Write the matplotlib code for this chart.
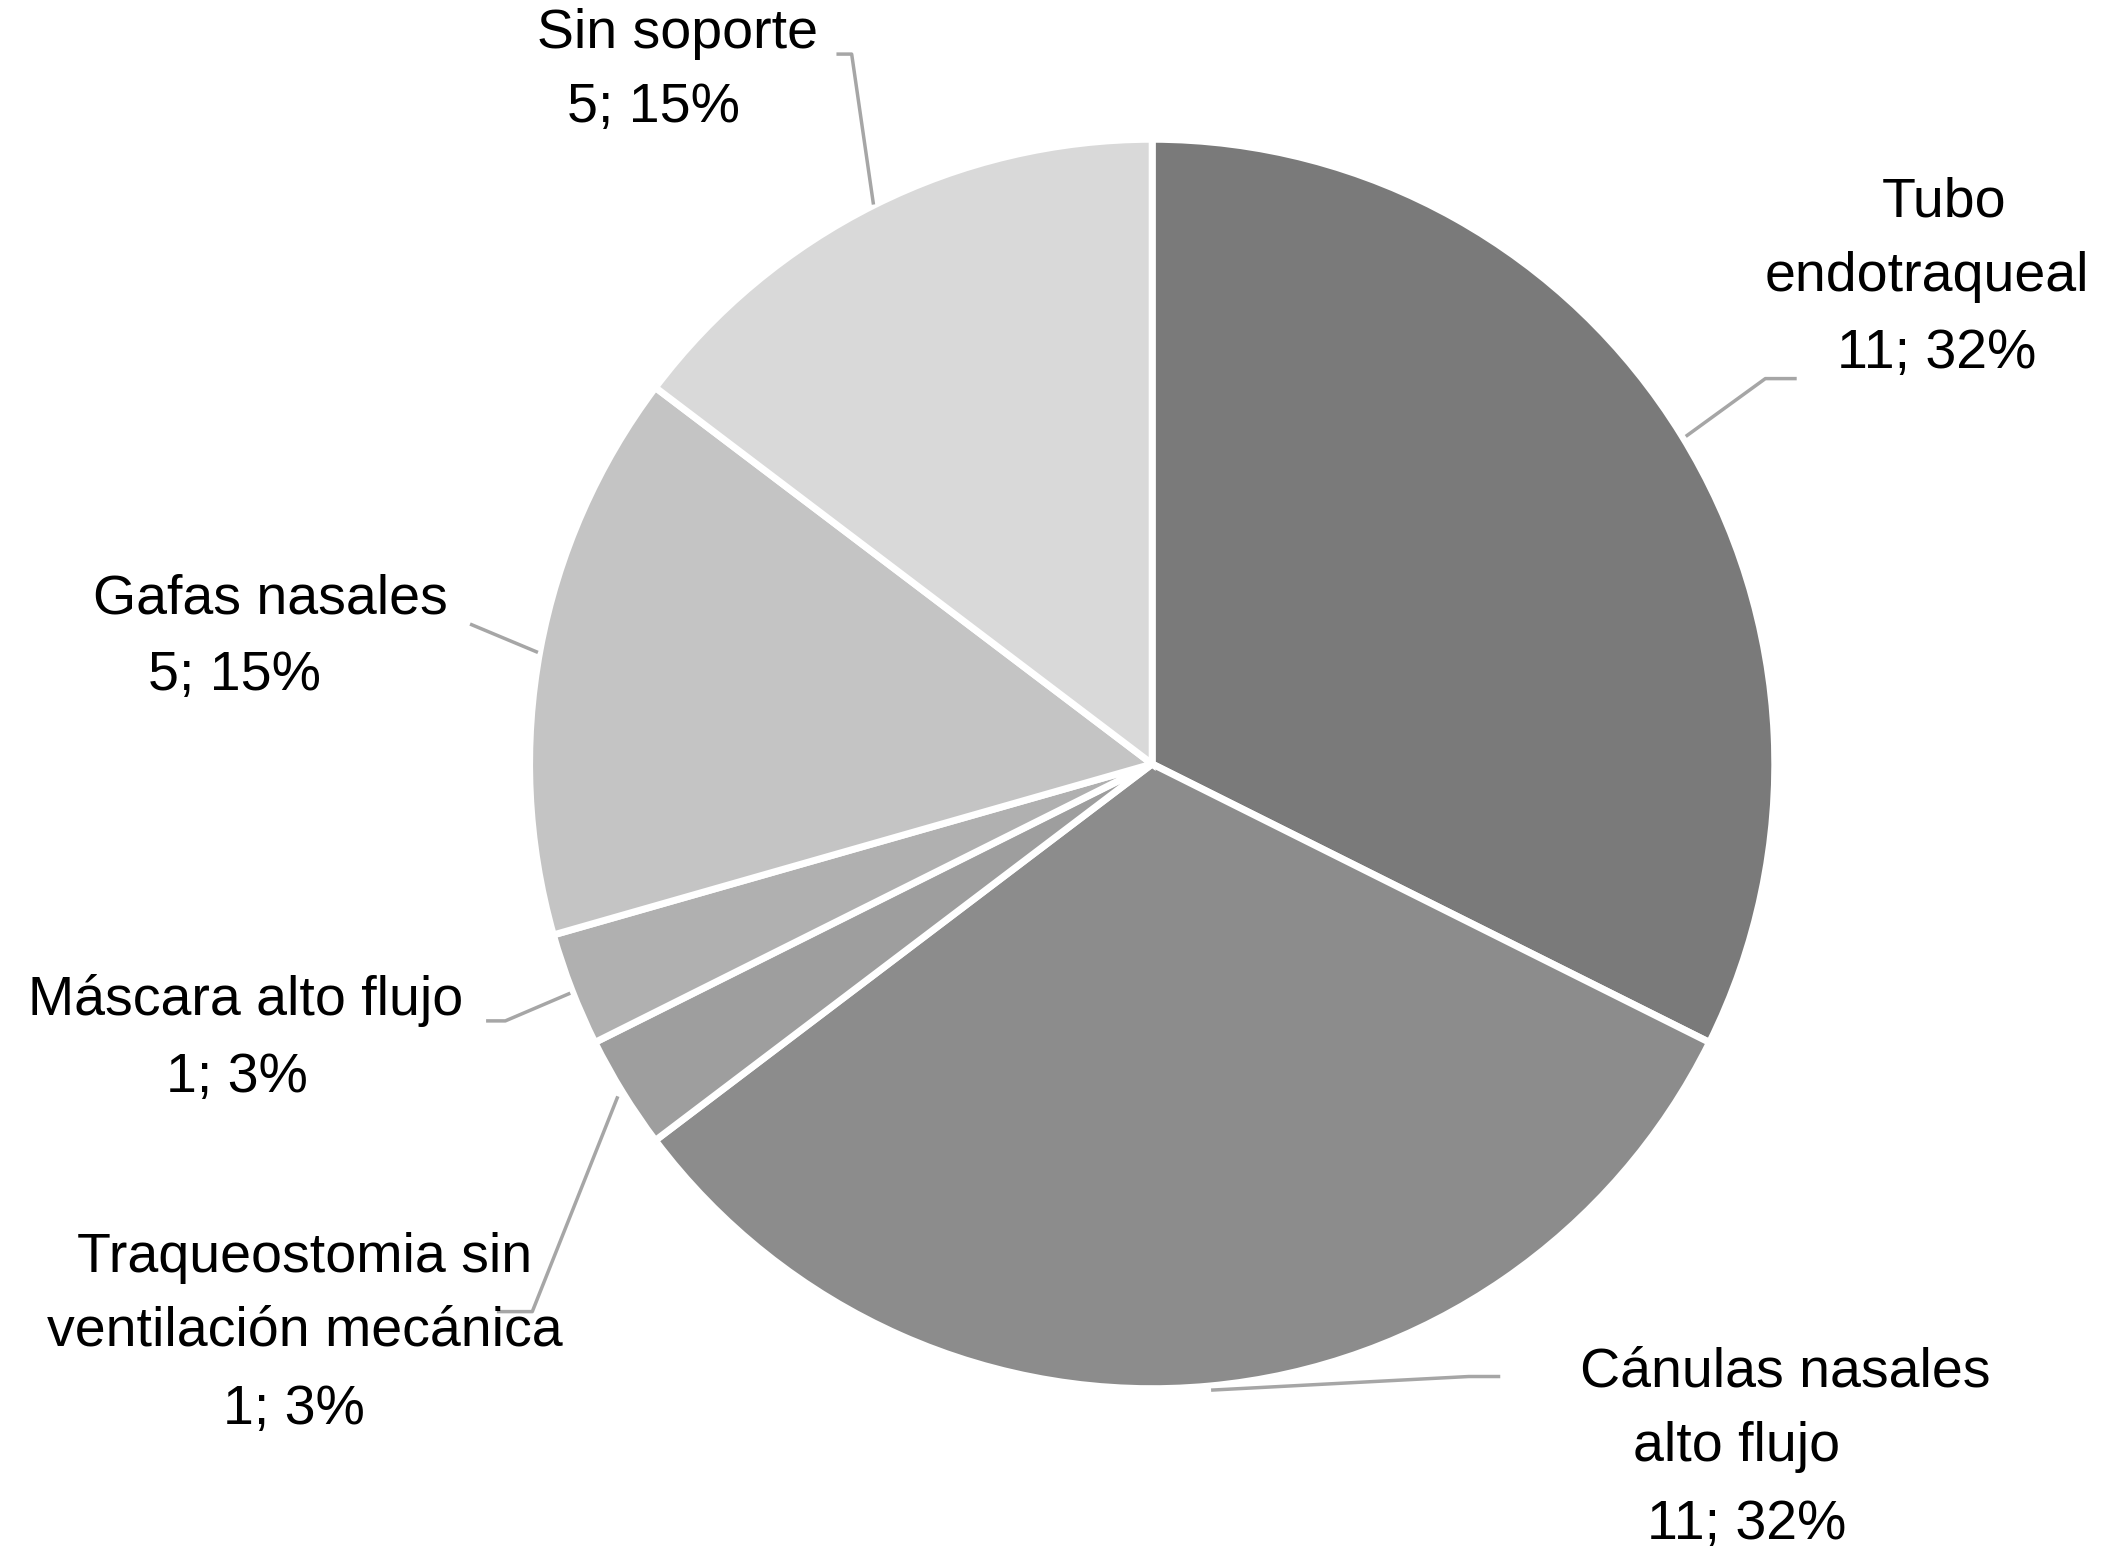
import matplotlib
matplotlib.use("Agg")
import matplotlib.pyplot as plt

categories = ["Tubo endotraqueal", "Cánulas nasales alto flujo", "Traqueostomia sin ventilación mecánica",
              "Máscara alto flujo", "Gafas nasales", "Sin soporte"]
values = [11, 11, 1, 1, 5, 5]
colors = ["#7a7a7a", "#8c8c8c", "#9e9e9e", "#b0b0b0", "#c4c4c4", "#d9d9d9"]

label_lines = [
    [("Tubo", 1443, 150), ("endotraqueal", 1430, 205), ("11; 32%", 1437, 262)],
    [("Cánulas nasales", 1325, 1015), ("alto flujo", 1289, 1070), ("11; 32%", 1296, 1128)],
    [("Traqueostomia sin", 226, 930), ("ventilación mecánica", 226, 985), ("1; 3%", 218, 1043)],
    [("Máscara alto flujo", 182, 740), ("1; 3%", 176, 797)],
    [("Gafas nasales", 201, 443), ("5; 15%", 174, 500)],
    [("Sin soporte", 503, 25), ("5; 15%", 485, 80)],
]
leaders = [
    [(1252, 322), (1310, 280), (1332, 280)],
    [(900, 1028), (1090, 1018), (1112, 1018)],
    [(458, 812), (395, 970), (370, 970)],
    [(422, 735), (375, 755), (362, 755)],
    [(398, 482), (350, 462)],
    [(648, 150), (632, 40), (622, 40)],
]

H = 1150
fig = plt.figure(figsize=(21.13, 15.55), dpi=100)
ax = fig.add_axes([0, 0, 1, 1])
ax.set_xlim(0, 1568)
ax.set_ylim(0, H)
ax.axis("off")

ax.pie(values, colors=colors, startangle=90, counterclock=False, center=(855, H - 565), radius=462,
       wedgeprops=dict(edgecolor="white", linewidth=5), frame=True)
ax.set_xlim(0, 1568)
ax.set_ylim(0, H)
ax.set_aspect("auto")
ax.axis("off")

for pts in leaders:
    ax.plot([p[0] for p in pts], [H - p[1] for p in pts], color="#a6a6a6", lw=2.5, zorder=1)
for lines in label_lines:
    for t, x, y in lines:
        ax.text(x, H - y, t, ha="center", va="center", fontsize=40, family="Liberation Sans", color="black", zorder=3)

fig.savefig("out.png", dpi=100)
